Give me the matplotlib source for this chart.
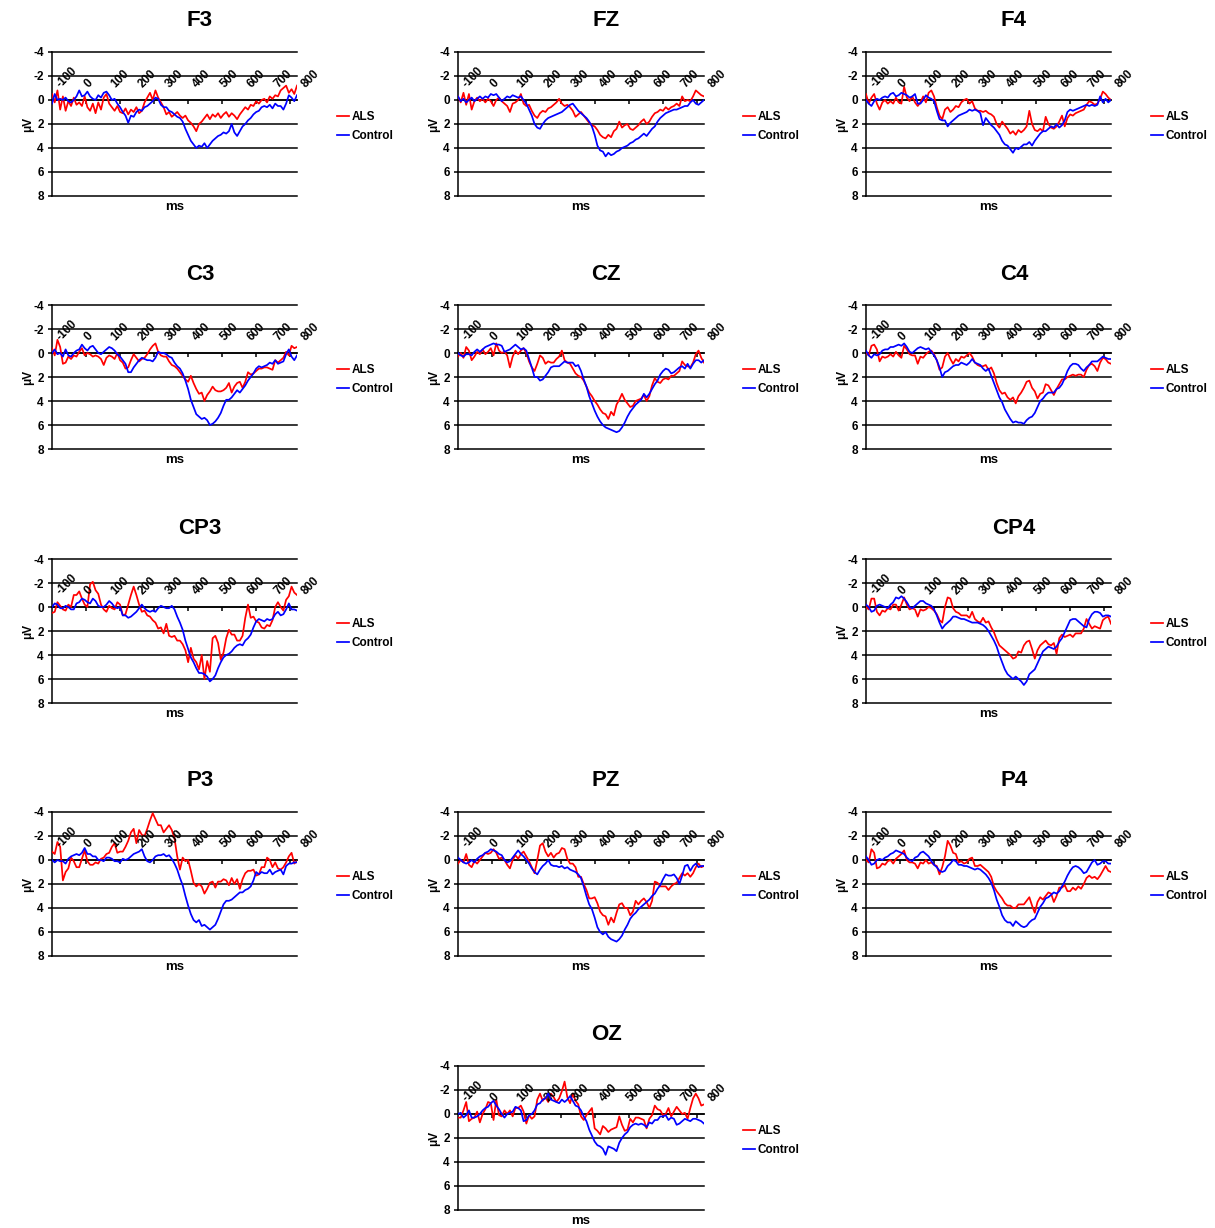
import matplotlib
matplotlib.use("Agg")
import matplotlib.pyplot as plt
from matplotlib.lines import Line2D

plt.rcParams['font.family'] = ['Liberation Sans', 'DejaVu Sans']
plt.rcParams['font.weight'] = 'bold'

# Sample times (ms) of the averaged ERP waveforms
TIME_MS = list(range(-100, 801, 10))

# Category labels shown along the zero line
X_LABEL_POS = [-100, 0, 100, 200, 300, 400, 500, 600, 700, 800]
X_LABELS = ['-100', '0', '100', '200', '300', '400', '500', '600', '700', '800']
X_TICK_MARKS = [25, 150, 275, 400, 525, 650, 775]
Y_TICKS = [-4, -2, 0, 2, 4, 6, 8]

# Grand-average amplitudes (µV), ALS group and control group, per electrode
F3_ALS = [-0.5, 0.2, -0.8, 0.8, -0.3, 0.9, 0.1, 0.5, -0.2, 0.4,
          0.2, 0.5, -0.3, 0.6, 0.9, 0.3, 1.1, 0.2, 0.8, -0.2,
          -0.5, 0.3, 0.6, 0.9, 0.5, 1.0, 1.1, 0.7, 1.2, 0.8,
          1.0, 0.6, 1.1, 0.9, 0.2, -0.2, -0.6, 0.0, -0.8, -0.2,
          0.2, 0.6, 1.2, 1.0, 1.4, 1.2, 1.0, 1.3, 1.5, 1.3,
          1.7, 1.9, 2.2, 2.6, 2.0, 1.8, 1.5, 1.2, 1.6, 1.2,
          1.4, 1.1, 1.5, 1.2, 1.0, 1.4, 1.1, 1.3, 1.6, 1.2,
          0.9, 0.6, 0.8, 0.4, 0.5, 0.1, 0.3, 0.0, -0.1, 0.2,
          -0.3, -0.1, -0.4, -0.3, -0.8, -1.0, -1.2, -0.6, -0.9, -0.5, -1.2]
F3_CTRL = [0.3, -0.5, 0.0, -0.1, 0.0, -0.2, 0.1, 0.2, 0.0, -0.3,
           -0.8, -0.3, -0.4, -0.7, -0.3, -0.1, 0.0, -0.4, -0.2, -0.6,
           -0.7, -0.4, 0.0, -0.1, 0.3, 0.6, 1.0, 1.3, 1.9, 1.3,
           1.4, 1.0, 0.8, 0.9, 0.6, 0.5, 0.3, 0.1, -0.2, -0.1,
           0.4, 0.6, 0.6, 0.9, 1.0, 1.2, 1.4, 1.5, 1.8, 2.4,
           2.9, 3.4, 3.7, 4.0, 3.8, 3.9, 3.6, 4.0, 3.7, 3.4,
           3.2, 3.0, 2.9, 2.7, 2.8, 2.6, 2.0, 2.7, 3.0, 2.6,
           2.2, 2.0, 1.7, 1.5, 1.2, 1.0, 0.9, 0.6, 0.5, 0.6,
           0.4, 0.7, 0.3, 0.5, 0.5, 0.8, 0.3, -0.4, -0.2, 0.1, -0.4]

FZ_ALS = [-0.3, 0.2, -0.6, 0.4, -0.5, 0.8, 0.1, -0.2, 0.1, -0.1,
          0.2, -0.1, 0.1, 0.5, 0.0, -0.2, 0.1, 0.3, 0.5, 1.0,
          0.3, 0.2, 0.0, -0.5, 0.3, 0.5, 0.4, 0.9, 1.3, 1.5,
          1.1, 0.9, 1.0, 0.7, 0.6, 0.4, 0.2, -0.1, 0.3, 0.5,
          0.4, 0.6, 0.9, 1.4, 1.2, 1.0, 1.3, 1.6, 1.9, 2.1,
          2.2, 2.5, 2.9, 3.1, 3.2, 2.9, 3.1, 2.6, 2.4, 1.8,
          2.3, 2.1, 2.0, 2.4, 2.5, 2.3, 2.1, 1.8, 1.6, 2.0,
          1.8, 1.4, 1.1, 1.0, 0.8, 0.9, 0.6, 0.8, 0.6, 0.5,
          0.3, 0.5, -0.3, 0.1, 0.0, 0.1, -0.3, -0.8, -0.6, -0.4, -0.3]
FZ_CTRL = [-0.3, 0.1, -0.1, 0.2, 0.0, -0.2, 0.1, -0.1, -0.3, -0.1,
           -0.3, -0.2, -0.5, -0.4, -0.5, -0.2, 0.1, -0.1, -0.3, -0.2,
           -0.4, -0.3, -0.2, -0.3, 0.0, 0.3, 0.8, 1.3, 2.0, 2.3,
           2.4, 2.0, 1.7, 1.5, 1.4, 1.3, 1.2, 1.1, 1.0, 0.8,
           0.6, 0.4, 0.3, 0.6, 0.9, 1.1, 1.3, 1.5, 1.8, 2.2,
           2.9, 3.8, 4.2, 4.3, 4.7, 4.4, 4.6, 4.5, 4.3, 4.2,
           4.0, 3.9, 3.8, 3.6, 3.5, 3.3, 3.2, 3.0, 2.8, 3.0,
           2.7, 2.4, 2.2, 1.8, 1.5, 1.3, 1.1, 1.0, 0.9, 0.8,
           0.8, 0.7, 0.6, 0.5, 0.5, 0.2, 0.0, 0.3, 0.4, 0.2, 0.0]

F4_ALS = [-0.5, 0.3, -0.2, -0.5, 0.3, 0.8, 0.2, 0.0, 0.3, 0.1,
          0.3, -0.2, 0.2, 0.3, -1.1, -0.2, 0.1, -0.3, 0.2, 0.5,
          0.2, -0.3, 0.2, -0.6, -0.8, -0.3, 0.6, 1.3, 1.6, 0.8,
          0.6, 1.0, 0.8, 0.5, 0.6, 0.2, 0.0, -0.1, 0.3, 0.1,
          0.7, 0.9, 0.9, 1.0, 0.9, 1.1, 1.2, 1.4, 2.0, 2.3,
          1.8, 2.1, 2.4, 2.8, 2.6, 2.9, 2.5, 2.7, 2.5, 2.2,
          0.9, 2.0, 2.5, 2.6, 2.4, 2.6, 1.4, 2.0, 2.3, 2.4,
          2.2, 1.8, 1.3, 2.2, 1.5, 1.2, 1.3, 1.1, 1.0, 0.9,
          0.8, 0.4, 0.1, 0.2, 0.4, 0.3, -0.1, -0.7, -0.5, -0.2, 0.0]
F4_CTRL = [0.0, 0.3, 0.5, 0.1, -0.1, 0.0, -0.2, -0.3, -0.2, -0.5,
           -0.6, -0.3, -0.4, -0.6, -0.5, -0.4, -0.2, -0.3, -0.5, 0.3,
           0.3, 0.0, -0.4, -0.2, -0.1, 0.1, 0.9, 1.6, 1.7, 1.7,
           2.2, 1.9, 1.7, 1.5, 1.3, 1.2, 1.1, 1.0, 0.8, 0.9,
           0.8, 0.9, 1.1, 2.1, 1.5, 1.8, 2.1, 2.3, 2.6, 2.9,
           3.4, 3.7, 3.8, 4.1, 4.4, 4.0, 4.1, 3.9, 3.7, 3.7,
           3.5, 3.8, 3.4, 3.1, 2.8, 2.6, 2.6, 2.4, 2.2, 2.3,
           2.0, 2.3, 2.1, 1.7, 1.0, 0.8, 0.9, 0.8, 0.7, 0.6,
           0.5, 0.4, 0.5, 0.4, 0.5, 0.4, -0.3, 0.2, -0.1, 0.2, 0.0]

C3_ALS = [-0.4, 0.2, -1.1, -0.5, 0.9, 0.8, 0.3, 0.5, 0.2, 0.3,
          -0.1, -0.4, 0.2, 0.0, 0.1, 0.3, 0.2, 0.3, 0.5, 1.0,
          0.4, 0.2, 0.3, 0.5, 0.0, 0.6, 0.8, 1.3, 1.2, 0.6,
          0.1, 0.4, 0.7, 0.5, 0.4, 0.1, -0.3, -0.6, -0.8, -0.1,
          0.2, 0.3, 0.3, 0.7, 1.0, 1.1, 1.3, 1.6, 1.9, 2.2,
          2.4, 1.9, 2.5, 3.0, 3.4, 3.3, 4.0, 3.5, 3.2, 2.8,
          3.1, 3.2, 3.2, 3.1, 2.9, 2.5, 3.3, 2.8, 2.5, 2.4,
          2.9, 2.4, 1.6, 1.8, 1.7, 1.5, 1.3, 1.3, 1.2, 1.2,
          1.3, 1.4, 0.6, 0.8, 0.6, 0.4, -0.1, 0.2, -0.6, -0.4, -0.5]
C3_CTRL = [0.0, -0.3, 0.1, 0.0, 0.3, -0.3, 0.2, 0.3, 0.0, -0.2,
           -0.3, -0.7, -0.4, -0.2, -0.5, -0.6, -0.3, 0.0, 0.1, -0.1,
           -0.3, -0.5, -0.4, -0.2, 0.1, 0.3, 0.6, 0.9, 1.6, 1.6,
           1.2, 0.9, 0.6, 0.4, 0.5, 0.6, 0.6, 0.7, 0.4, -0.1,
           0.0, 0.0, 0.1, 0.3, 0.4, 0.8, 1.1, 1.3, 1.7, 2.3,
           3.0, 3.9, 4.5, 5.1, 5.3, 5.5, 5.4, 5.6, 6.0, 5.9,
           5.7, 5.4, 5.0, 4.4, 3.9, 3.9, 3.7, 3.4, 3.1, 3.3,
           3.0, 2.7, 2.3, 2.0, 1.7, 1.3, 1.1, 1.2, 1.1, 1.0,
           0.8, 0.9, 0.6, 0.9, 0.8, 0.7, 0.1, -0.3, 0.3, 0.6, 0.2]

CZ_ALS = [0.3, 0.0, 0.4, -0.5, -0.2, 0.6, 0.3, -0.1, 0.1, -0.3,
          0.1, -0.1, -0.4, 0.2, -0.8, -0.2, 0.0, -0.1, 0.2, 1.2,
          0.3, -0.2, 0.1, -0.2, -0.4, 0.0, 0.7, 1.2, 1.5, 0.9,
          0.2, 0.4, 0.9, 0.7, 0.8, 0.8, 0.5, 0.3, -0.2, 0.6,
          0.8, 0.9, 1.3, 1.7, 1.9, 2.0, 2.3, 2.8, 3.3, 3.6,
          4.0, 4.3, 4.7, 5.0, 5.1, 5.5, 4.9, 5.2, 4.3, 3.9,
          3.4, 3.9, 4.2, 4.5, 4.4, 4.0, 3.9, 3.8, 3.5, 4.0,
          3.6, 2.7, 2.1, 2.4, 2.5, 2.2, 2.1, 2.2, 1.9, 1.9,
          1.7, 1.5, 0.7, 1.0, 1.1, 1.2, 0.8, 0.1, -0.2, 0.4, 0.8]
CZ_CTRL = [0.0, 0.2, 0.3, 0.1, 0.1, 0.2, -0.1, -0.3, -0.1, -0.3,
           -0.5, -0.6, -0.7, -0.8, -0.7, -0.7, -0.6, -0.1, -0.2, -0.3,
           -0.5, -0.7, -0.5, -0.3, -0.4, -0.2, 0.5, 1.2, 2.0, 2.0,
           2.3, 2.2, 1.9, 1.6, 1.2, 1.1, 1.1, 1.1, 0.9, 0.7,
           0.8, 0.8, 0.8, 1.1, 1.0, 1.5, 2.2, 2.8, 3.6, 4.2,
           4.8, 5.3, 5.7, 6.0, 6.2, 6.3, 6.4, 6.5, 6.6, 6.5,
           6.2, 5.8, 5.3, 4.9, 4.6, 4.3, 4.1, 3.9, 3.4, 3.7,
           3.4, 3.0, 2.6, 2.3, 1.8, 1.5, 1.3, 1.4, 1.7, 1.6,
           1.4, 1.2, 1.1, 1.3, 0.9, 1.3, 0.9, 0.6, 0.6, 0.8, 0.6]

C4_ALS = [0.0, 0.2, -0.6, -0.7, -0.3, 0.7, 0.3, 0.4, 0.3, 0.1,
          0.3, -0.1, 0.2, 0.4, -0.6, -0.3, 0.1, 0.2, 0.2, 0.9,
          0.3, 0.4, 0.1, -0.1, -0.2, 0.1, 0.6, 1.4, 1.2, 0.3,
          0.0, 0.5, 0.9, 0.5, 0.7, 0.3, 0.4, 0.2, 0.0, 0.3,
          0.8, 1.0, 1.1, 1.1, 1.0, 1.4, 1.2, 1.7, 2.5, 3.1,
          3.4, 3.3, 3.7, 3.9, 3.7, 4.2, 3.6, 3.3, 2.9, 2.4,
          2.3, 2.9, 3.2, 3.8, 3.4, 3.3, 2.6, 2.7, 3.1, 3.5,
          3.0, 2.6, 2.2, 2.2, 2.0, 1.9, 1.8, 1.9, 1.8, 1.8,
          2.0, 1.4, 1.0, 0.9, 1.1, 1.5, 0.8, 0.4, 0.5, 0.8, 0.9]
C4_CTRL = [-0.2, 0.2, 0.4, 0.1, 0.2, 0.1, -0.2, -0.3, -0.3, -0.5,
           -0.5, -0.6, -0.7, -0.6, -0.8, -0.5, -0.1, 0.0, -0.2, -0.4,
           -0.5, -0.4, -0.3, -0.4, -0.1, 0.2, 0.6, 1.2, 2.0, 1.6,
           1.5, 1.3, 1.1, 1.0, 1.0, 0.8, 0.9, 1.0, 0.8, 0.5,
           0.8, 0.9, 1.0, 1.3, 1.5, 1.3, 1.9, 2.5, 3.1, 3.7,
           4.1, 4.7, 5.1, 5.5, 5.8, 5.7, 5.8, 5.8, 5.9, 5.6,
           5.4, 5.3, 5.0, 4.5, 4.0, 3.8, 3.5, 3.3, 3.3, 3.3,
           3.0, 2.9, 2.6, 2.1, 1.5, 1.1, 0.9, 0.9, 1.0, 1.3,
           1.5, 1.2, 1.0, 0.7, 0.7, 0.7, 0.5, 0.3, 0.4, 0.5, 0.5]

CP3_ALS = [0.5, 0.4, -0.4, -0.1, 0.2, 0.3, -0.2, 0.0, -1.0, -1.0,
           -1.3, -0.7, -0.2, 0.0, -1.9, -2.1, -1.4, -1.1, -0.2, 0.2,
           0.4, -0.1, 0.1, 0.2, -0.4, -0.2, 0.7, 0.6, -0.2, -1.0,
           -1.7, -1.0, -0.2, 0.4, 0.3, 0.7, 0.8, 1.1, 1.3, 1.8,
           1.7, 2.2, 1.4, 2.4, 2.5, 2.4, 2.8, 2.8, 3.1, 3.6,
           4.6, 3.4, 4.3, 4.6, 5.2, 4.0, 6.0, 4.5, 5.4, 2.6,
           2.4, 3.0, 4.4, 3.8, 2.6, 1.9, 2.3, 2.3, 2.8, 2.8,
           2.4, 0.9, -0.2, 0.9, 0.8, 1.2, 1.3, 1.7, 1.8, 1.5,
           1.6, 1.1, 0.0, -0.4, 0.0, 0.3, -0.6, -0.9, -1.7, -1.2, -1.0]
CP3_CTRL = [0.0, -0.3, -0.2, 0.1, 0.1, -0.1, 0.0, 0.2, 0.2, -0.3,
            -0.4, -0.7, -0.6, -0.4, -0.3, -0.7, -0.5, -0.1, 0.0, 0.0,
            -0.2, -0.5, -0.3, 0.0, 0.1, 0.0, 0.7, 0.7, 0.9, 0.8,
            0.6, 0.4, 0.1, -0.2, 0.1, 0.3, 0.4, 0.3, 0.4, 0.1,
            -0.1, 0.0, 0.1, 0.1, -0.1, 0.2, 0.8, 1.3, 1.9, 2.8,
            3.5, 4.2, 4.6, 5.1, 5.5, 5.5, 5.6, 5.8, 6.2, 6.0,
            5.7, 5.1, 4.6, 4.2, 4.0, 3.9, 3.7, 3.4, 3.2, 3.1,
            3.2, 2.8, 2.6, 2.3, 1.7, 1.2, 1.0, 1.1, 1.2, 1.0,
            1.1, 1.0, 0.6, 0.4, 0.7, 0.6, 0.2, -0.3, 0.2, 0.2, 0.3]

CP4_ALS = [0.0, 0.2, -0.7, -0.7, 0.4, 0.7, 0.3, 0.4, 0.1, 0.2,
           -0.2, -0.2, 0.3, -0.2, -0.8, -0.2, 0.2, 0.1, 0.2, 0.8,
           0.2, 0.3, 0.2, 0.0, 0.1, 0.3, 0.6, 1.1, 1.3, 0.0,
           -0.8, -0.7, 0.1, 0.4, 0.5, 0.7, 0.7, 0.7, 0.9, 0.4,
           1.0, 1.2, 1.3, 0.9, 1.3, 1.2, 1.7, 2.1, 2.7, 3.2,
           3.4, 3.6, 3.8, 4.0, 4.3, 4.2, 3.7, 3.8, 3.2, 2.9,
           2.8, 3.5, 4.3, 3.6, 3.2, 3.0, 2.8, 3.1, 3.2, 3.0,
           3.9, 2.6, 2.3, 2.5, 2.4, 2.3, 2.5, 2.2, 2.2, 2.2,
           1.8, 1.0, 1.4, 1.8, 1.6, 1.7, 1.8, 1.1, 0.9, 0.8, 1.4]
CP4_CTRL = [-0.2, 0.0, 0.4, 0.3, -0.1, -0.2, -0.1, 0.0, 0.1, -0.2,
            -0.4, -0.8, -0.7, -0.9, -0.7, -0.4, 0.0, 0.1, -0.1, -0.3,
            -0.5, -0.5, -0.3, -0.2, -0.1, 0.2, 0.7, 1.3, 1.8, 1.5,
            1.3, 1.1, 0.8, 0.8, 0.9, 1.0, 1.0, 1.1, 1.2, 1.3,
            1.3, 1.3, 1.4, 1.5, 1.7, 2.0, 2.4, 2.8, 3.3, 4.0,
            4.6, 5.2, 5.6, 5.8, 6.0, 5.8, 6.0, 6.2, 6.5, 6.2,
            5.6, 5.4, 5.2, 4.7, 4.2, 3.7, 3.5, 3.3, 3.4, 3.5,
            3.3, 2.9, 2.6, 2.1, 1.6, 1.1, 1.0, 1.0, 1.2, 1.4,
            1.6, 1.7, 1.0, 0.6, 0.4, 0.4, 0.5, 0.8, 0.7, 0.7, 0.8]

P3_ALS = [-0.7, -0.5, -1.5, -1.1, 1.7, 1.0, 0.7, -0.2, 0.1, 0.6,
          0.6, -0.1, -0.8, 0.1, 0.4, 0.4, 0.2, 0.3, -0.1, -0.2,
          -0.5, -0.6, -1.1, -1.4, -0.6, -0.7, -0.7, -1.1, -1.6, -2.3,
          -2.6, -1.4, -2.5, -2.1, -2.0, -2.6, -3.3, -3.9, -3.4, -2.9,
          -2.9, -2.3, -2.6, -2.9, -2.5, -1.8, -0.3, 0.8, -0.2, 0.1,
          0.0, 0.9, 1.9, 2.2, 2.0, 2.2, 2.8, 2.4, 1.9, 1.8,
          2.3, 1.8, 1.8, 1.6, 1.7, 2.1, 1.5, 2.0, 1.6, 2.4,
          1.6, 1.1, 0.9, 0.9, 0.8, 1.3, 1.2, 0.6, 0.6, -0.2,
          0.0, 0.6, 0.2, 0.7, 0.8, 0.6, 0.2, -0.3, -0.6, 0.3, 0.1]
P3_CTRL = [0.0, 0.2, 0.0, 0.1, 0.1, 0.3, -0.1, -0.3, -0.4, -0.5,
           -0.4, -0.6, -1.0, -0.5, -0.5, -0.3, -0.3, 0.0, 0.0, 0.1,
           -0.2, -0.2, -0.1, 0.1, 0.1, 0.2, -0.1, 0.0, -0.1, -0.3,
           -0.5, -0.6, -0.7, -0.9, -0.3, 0.1, 0.2, 0.0, -0.3, -0.4,
           -0.4, -0.5, -0.3, -0.4, -0.1, 0.3, 0.8, 1.5, 2.1, 3.0,
           3.8, 4.5, 5.0, 5.2, 5.0, 5.5, 5.4, 5.6, 5.8, 5.6,
           5.4, 4.9, 4.3, 3.7, 3.4, 3.4, 3.3, 3.1, 2.9, 2.7,
           2.7, 2.5, 2.4, 2.2, 1.7, 1.0, 1.2, 1.0, 1.1, 1.1,
           0.8, 1.2, 1.0, 0.9, 0.8, 1.2, 0.5, 0.3, 0.3, 0.2, 0.2]

PZ_ALS = [0.3, 0.0, 0.2, -0.5, 0.4, 0.6, 0.1, 0.3, 0.0, -0.3,
          -0.6, -0.5, -0.6, -0.9, -0.6, -0.1, -0.2, 0.0, 0.4, 0.7,
          0.0, -0.4, -0.1, -0.5, -0.7, -0.3, 0.1, 0.6, 1.1, 0.0,
          -1.2, -1.4, -0.7, -0.3, -0.6, -0.2, -0.5, -0.6, -1.0, -0.9,
          -0.1, 0.3, 0.3, 0.6, 1.4, 1.4, 2.0, 2.5, 3.2, 3.2,
          3.1, 3.6, 4.3, 4.6, 4.7, 5.4, 4.8, 5.2, 4.4, 3.7,
          3.6, 4.0, 4.0, 4.6, 4.3, 3.4, 3.7, 3.4, 3.2, 3.5,
          4.0, 3.4, 1.8, 1.9, 2.2, 2.2, 2.2, 2.5, 2.2, 2.0,
          1.9, 1.5, 1.1, 1.3, 1.1, 1.4, 1.1, 0.6, 0.3, 0.6, 0.5]
PZ_CTRL = [-0.2, 0.0, 0.2, 0.3, 0.2, 0.0, 0.2, -0.1, -0.3, -0.4,
           -0.6, -0.7, -0.9, -0.8, -0.7, -0.5, -0.4, 0.0, 0.2, 0.1,
           -0.2, -0.5, -0.8, -0.5, -0.3, 0.0, 0.3, 0.7, 1.0, 1.2,
           0.8, 0.5, 0.3, 0.0, 0.4, 0.5, 0.5, 0.6, 0.5, 0.7,
           0.6, 0.8, 0.9, 1.0, 1.2, 1.5, 2.2, 3.0, 3.7, 4.1,
           4.8, 5.6, 6.0, 6.2, 6.0, 6.4, 6.6, 6.7, 6.8, 6.6,
           6.3, 5.8, 5.4, 4.9, 4.6, 4.4, 4.1, 3.9, 3.7, 3.5,
           3.3, 3.0, 2.8, 2.4, 2.1, 1.6, 1.2, 1.3, 1.3, 1.2,
           1.5, 2.0, 1.3, 0.5, 0.4, 0.9, 0.5, 0.3, 0.6, 0.5, 0.5]

P4_ALS = [0.0, 0.2, -0.9, -0.6, 0.7, 0.6, 0.3, 0.4, 0.1, 0.0,
          0.3, -0.1, -0.3, -0.5, -0.8, 0.0, 0.2, 0.2, 0.3, 0.7,
          0.2, 0.3, 0.0, 0.3, 0.2, 0.4, 0.5, 1.2, 0.6, -0.3,
          -1.6, -1.2, -0.6, -0.5, 0.2, 0.1, 0.3, 0.2, -0.1, -0.2,
          0.5, 0.5, 0.4, 0.6, 0.8, 1.0, 1.4, 2.2, 2.6, 2.9,
          3.2, 3.6, 3.8, 3.8, 4.0, 4.0, 3.7, 3.7, 3.7, 3.4,
          3.1, 3.8, 4.4, 3.5, 3.1, 3.3, 3.0, 2.7, 2.8, 3.5,
          3.0, 2.3, 2.3, 2.1, 2.6, 2.6, 2.3, 2.5, 2.2, 2.4,
          2.0, 1.5, 1.3, 1.5, 1.4, 1.6, 1.3, 0.9, 0.5, 0.9, 1.0]
P4_CTRL = [-0.3, 0.0, 0.4, 0.3, 0.0, -0.1, 0.0, -0.2, -0.3, -0.5,
           -0.6, -0.8, -0.7, -0.6, -0.5, -0.2, 0.0, 0.1, -0.2, -0.3,
           -0.6, -0.7, -0.5, -0.3, 0.1, 0.4, 0.6, 0.9, 1.0, 0.9,
           0.5, 0.3, 0.0, 0.1, 0.4, 0.4, 0.5, 0.5, 0.6, 0.7,
           0.8, 0.7, 0.8, 1.0, 1.2, 1.5, 1.9, 2.5, 3.3, 3.9,
           4.6, 5.0, 5.2, 5.2, 5.5, 5.1, 5.3, 5.5, 5.6, 5.5,
           5.2, 5.0, 4.9, 4.4, 3.9, 3.6, 3.2, 3.1, 2.9, 2.7,
           2.8, 2.6, 2.2, 1.8, 1.3, 0.9, 0.6, 0.5, 0.6, 0.8,
           1.1, 1.0, 0.6, 0.2, 0.0, 0.4, 0.3, 0.1, 0.1, 0.3, 0.3]

OZ_ALS = [0.3, 0.3, -0.3, -1.0, 0.6, 0.4, 0.3, -0.2, 0.7, 0.0,
          -0.4, -1.0, -0.9, 0.5, -1.2, 0.1, 0.2, -0.3, 0.0, -0.3,
          0.2, -0.5, -0.5, -0.7, -0.2, 0.8, 0.1, 0.4, 0.2, -1.2,
          -1.7, -1.1, -1.4, -1.0, -1.7, -1.4, -1.0, -1.3, -1.9, -2.7,
          -1.4, -0.9, -1.7, -1.1, -0.8, 0.2, 0.5, 0.1, -0.2, -0.5,
          1.2, 1.4, 1.7, 1.0, 1.2, 1.5, 1.3, 1.2, 1.1, 0.2,
          0.9, 1.4, 1.3, 0.4, 0.7, 0.3, 0.3, 0.4, 0.5, 1.2,
          0.4, 0.1, -0.7, -0.4, -0.3, 0.1, 0.0, -0.5, 0.2, -0.2,
          -0.6, -0.3, 0.0, -0.1, 0.4, -0.5, -1.3, -1.7, -1.3, -0.7, -0.8]
OZ_CTRL = [0.0, -0.1, 0.3, 0.1, -0.3, 0.3, 0.3, 0.2, 0.0, -0.3,
           -0.5, -0.6, -0.9, -1.1, -0.7, -0.4, 0.0, 0.3, 0.0, -0.1,
           -0.2, -0.6, -0.5, -0.3, 0.6, 0.5, 0.1, 0.0, -0.3, -0.8,
           -0.9, -1.2, -1.3, -1.7, -1.2, -1.1, -1.0, -0.9, -1.2, -1.0,
           -1.2, -1.5, -1.1, -0.7, -0.6, -0.3, 0.2, 0.6, 1.3, 1.8,
           2.3, 2.6, 2.7, 2.9, 3.4, 2.7, 2.8, 2.9, 3.1, 2.4,
           2.0, 1.7, 1.5, 1.1, 0.9, 0.8, 0.9, 0.8, 0.9, 1.1,
           0.7, 0.8, 0.5, 0.5, 0.2, 0.2, 0.1, 0.5, 0.3, 0.4,
           0.9, 0.8, 0.6, 0.4, 0.5, 0.6, 0.4, 0.4, 0.5, 0.6, 0.8]

# Electrode, grid row, grid column, ALS series, control series
PANELS = [
    ("F3", 0, 0, F3_ALS, F3_CTRL), ("FZ", 0, 1, FZ_ALS, FZ_CTRL), ("F4", 0, 2, F4_ALS, F4_CTRL),
    ("C3", 1, 0, C3_ALS, C3_CTRL), ("CZ", 1, 1, CZ_ALS, CZ_CTRL), ("C4", 1, 2, C4_ALS, C4_CTRL),
    ("CP3", 2, 0, CP3_ALS, CP3_CTRL), ("CP4", 2, 2, CP4_ALS, CP4_CTRL),
    ("P3", 3, 0, P3_ALS, P3_CTRL), ("PZ", 3, 1, PZ_ALS, PZ_CTRL), ("P4", 3, 2, P4_ALS, P4_CTRL),
    ("OZ", 4, 1, OZ_ALS, OZ_CTRL),
]

W, H = 1215, 1228
fig = plt.figure(figsize=(W / 100, H / 100), dpi=100)

COL_LEFT = [52, 458, 866]
COL_WIDTH = [245, 246, 245]
ROW_TOP = [52, 305, 559, 812, 1066]
PLOT_H = 144

ALS_COLOR = '#ff0000'
CTRL_COLOR = '#0000ff'
TRACE_LW = 1.25

for name, r, c, als, ctrl in PANELS:
    assert len(als) == len(TIME_MS) and len(ctrl) == len(TIME_MS), name
    left, width, top = COL_LEFT[c], COL_WIDTH[c], ROW_TOP[r]
    ax = fig.add_axes([left / W, 1 - (top + PLOT_H) / H, width / W, PLOT_H / H])
    ax.set_xlim(-100, 800)
    ax.set_ylim(8, -4)

    for yv in Y_TICKS:
        ax.axhline(yv, color='black', lw=1.1, zorder=1, clip_on=False)

    ax.plot(TIME_MS, als, color=ALS_COLOR, lw=TRACE_LW, zorder=3)
    ax.plot(TIME_MS, ctrl, color=CTRL_COLOR, lw=TRACE_LW, zorder=4)

    for side in ('top', 'right'):
        ax.spines[side].set_visible(False)
    ax.spines['left'].set_color('black')
    ax.spines['left'].set_linewidth(1.1)
    ax.spines['bottom'].set_position(('data', 0))
    ax.spines['bottom'].set_color('black')
    ax.spines['bottom'].set_linewidth(1.1)

    ax.set_yticks(Y_TICKS)
    ax.set_yticklabels([str(v) for v in Y_TICKS], fontsize=8.5, fontweight='bold')
    ax.tick_params(axis='y', length=3, width=1.1, pad=3, color='black')
    ax.set_xticks(X_TICK_MARKS)
    ax.tick_params(axis='x', direction='out', length=3, width=1.1,
                   labelbottom=False, color='black')

    for pos, lbl in zip(X_LABEL_POS, X_LABELS):
        ax.annotate(lbl, (pos, 0), xytext=(11, 10), textcoords='offset pixels',
                    rotation=45, rotation_mode='anchor', ha='left', va='bottom',
                    fontsize=8.5, fontweight='bold', annotation_clip=False)

    ax.annotate(name, xy=(0, 1), xycoords='axes fraction', xytext=(148, 31),
                textcoords='offset pixels', ha='center', va='center',
                fontsize=16, fontweight='bold', annotation_clip=False)
    ax.annotate('μV', xy=(0, 0.5), xycoords='axes fraction', xytext=(-24, 0),
                textcoords='offset pixels', ha='center', va='center', rotation=90,
                fontsize=8.5, fontweight='bold', annotation_clip=False)
    ax.annotate('ms', xy=(0.5, 0), xycoords='axes fraction', xytext=(0, -11),
                textcoords='offset pixels', ha='center', va='center',
                fontsize=9.5, fontweight='bold', annotation_clip=False)

    handles = [Line2D([], [], color=ALS_COLOR, lw=TRACE_LW),
               Line2D([], [], color=CTRL_COLOR, lw=TRACE_LW)]
    ax.legend(handles, ['ALS', 'Control'], loc='upper left',
              bbox_to_anchor=(285 / width, 1 - 59 / PLOT_H),
              frameon=False, prop={'size': 8.5, 'weight': 'bold'},
              handlelength=1.0, handletextpad=0.25, labelspacing=0.6,
              borderpad=0, borderaxespad=0)

fig.savefig('out.png', dpi=100)
